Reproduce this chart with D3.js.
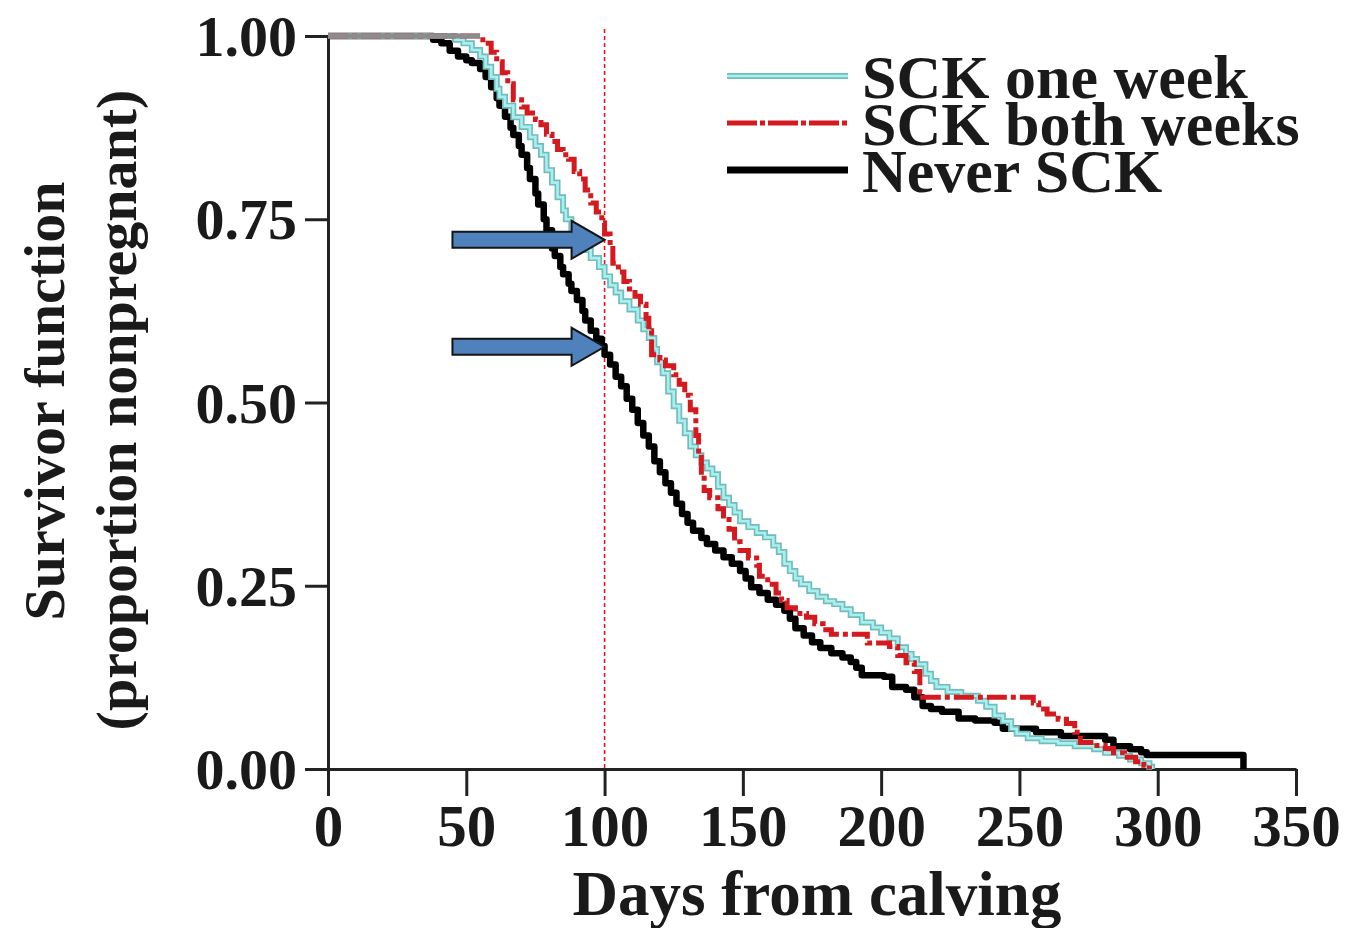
<!DOCTYPE html>
<html><head><meta charset="utf-8">
<script src="https://cdn.jsdelivr.net/npm/d3@7"></script>
<style>
html,body{margin:0;padding:0;background:#fff;}
svg{display:block;}
text{font-family:"Liberation Serif","Times New Roman",serif;font-weight:bold;fill:#1a1a1a;}
</style></head>
<body>
<svg id="chart" width="1345" height="928"></svg>
<script>
// ---- data ----
const seriesNames = ["SCK one week", "SCK both weeks", "Never SCK"];
const xTicks = [0, 50, 100, 150, 200, 250, 300, 350];
const yTicks = [0, 0.25, 0.5, 0.75, 1.0];

const neverDays = [0,38,41,44,47,50,52,55,57,59,61,62,64,66,67,69,70,72,73,75,76,78,79,81,82,84,85,87,88,90,92,93,95,97,99,100,102,104,106,108,110,112,114,116,118,120,122,124,126,128,130,132,135,137,140,143,146,149,151,153,156,159,162,165,167,169,172,175,178,182,186,189,191,193,201,204,209,212,215,218,222,228,234,241,244,256,265,281,284,290,294,296,331,331];
const neverSurv = [1,0.995,0.99,0.98,0.972,0.967,0.963,0.955,0.944,0.93,0.915,0.905,0.89,0.875,0.865,0.85,0.838,0.82,0.805,0.785,0.77,0.75,0.735,0.71,0.70,0.685,0.675,0.662,0.652,0.64,0.625,0.612,0.598,0.587,0.577,0.565,0.552,0.535,0.522,0.505,0.49,0.472,0.455,0.44,0.42,0.405,0.39,0.377,0.362,0.348,0.336,0.325,0.315,0.307,0.298,0.289,0.28,0.27,0.26,0.248,0.24,0.231,0.224,0.216,0.205,0.192,0.182,0.173,0.165,0.158,0.152,0.146,0.138,0.128,0.126,0.112,0.108,0.098,0.086,0.082,0.078,0.069,0.066,0.063,0.055,0.05,0.045,0.04,0.031,0.027,0.023,0.019,0.019,0];

const oneDays = [0,46,49,52,55,57,59,61,62,64,67,70,73,75,77,79,81,83,85,86,88,90,92,95,98,100,102,104,106,109,112,114,116,118,119,121,123,125,127,129,131,133,135,137,139,141,143,145,147,149,152,155,158,161,163,165,167,169,171,174,177,180,183,186,189,193,197,200,203,206,209,211,213,216,218,220,224,229,235,238,241,244,247,249,253,258,264,270,277,281,286,290,294,297,298];
const oneSurv = [1,0.995,0.99,0.981,0.972,0.958,0.944,0.928,0.917,0.905,0.889,0.876,0.862,0.85,0.838,0.817,0.80,0.78,0.762,0.75,0.735,0.72,0.708,0.697,0.685,0.672,0.66,0.65,0.638,0.627,0.612,0.60,0.588,0.573,0.555,0.54,0.515,0.495,0.475,0.458,0.44,0.428,0.418,0.41,0.402,0.385,0.37,0.36,0.35,0.338,0.33,0.322,0.316,0.305,0.296,0.28,0.27,0.26,0.252,0.243,0.235,0.229,0.225,0.218,0.21,0.20,0.193,0.186,0.178,0.166,0.157,0.15,0.143,0.13,0.12,0.112,0.105,0.10,0.093,0.085,0.073,0.065,0.055,0.048,0.042,0.038,0.035,0.031,0.027,0.022,0.018,0.013,0.008,0.003,0];

const bothDays = [0,55,57,59,61,63,65,67,70,72,75,77,79,81,83,85,87,89,91,93,95,97,99,100,102,103,105,107,109,111,113,115,116,117,120,122,125,127,129,131,133,134,135,136,138,141,143,145,147,149,152,155,156,159,162,164,166,169,173,176,179,182,195,203,206,209,212,214,215,255,257,260,264,267,270,272,278,281,284,288,292,295,297];
const bothSurv = [1,0.995,0.99,0.978,0.965,0.95,0.935,0.913,0.903,0.895,0.886,0.879,0.866,0.856,0.845,0.838,0.832,0.815,0.805,0.79,0.772,0.76,0.745,0.73,0.71,0.69,0.678,0.665,0.655,0.645,0.634,0.615,0.598,0.565,0.558,0.55,0.538,0.525,0.51,0.49,0.455,0.43,0.40,0.38,0.37,0.355,0.345,0.327,0.31,0.298,0.288,0.278,0.263,0.252,0.24,0.23,0.22,0.212,0.207,0.198,0.19,0.184,0.172,0.167,0.155,0.145,0.133,0.105,0.098,0.09,0.082,0.075,0.068,0.062,0.05,0.036,0.032,0.028,0.022,0.016,0.01,0.005,0];

// annotation values
const refDay = 100;
const arrowStartDay = 45;
const arrowTargets = [0.722, 0.576];

// ---- chart ----
const svg = d3.select("#chart");
const x = d3.scaleLinear().domain([0, 350]).range([328, 1296]);
const y = d3.scaleLinear().domain([0, 1]).range([769, 36]);

const zip = (a, b) => a.map((d, i) => [d, b[i]]);
const line = d3.line().x(d => x(d[0])).y(d => y(d[1])).curve(d3.curveStepAfter);

// axes
const yAxis = svg.append("g").attr("transform", `translate(${x(0)},0)`)
  .call(d3.axisLeft(y).tickValues(yTicks).tickFormat(d3.format(".2f")).tickSize(23).tickPadding(8).tickSizeOuter(0));
const xAxis = svg.append("g").attr("transform", `translate(0,${y(0)})`)
  .call(d3.axisBottom(x).tickValues(xTicks).tickFormat(d3.format("d")).tickSize(27).tickPadding(8).tickSizeOuter(0));
[yAxis, xAxis].forEach(g => {
  g.select(".domain").attr("stroke", "#222").attr("stroke-width", 3);
  g.selectAll(".tick line").attr("stroke", "#222").attr("stroke-width", 3);
  g.selectAll(".tick text").attr("fill", "#1a1a1a").style("font-family", '"Liberation Serif",serif').style("font-weight", "bold");
});
yAxis.selectAll(".tick text").style("font-size", "58px").attr("dy", "0.34em");
xAxis.selectAll(".tick text").style("font-size", "59px").attr("dy", "0.72em");

// reference line at day 100
svg.append("line").attr("x1", x(refDay)).attr("x2", x(refDay)).attr("y1", 29).attr("y2", y(0))
  .attr("stroke", "#e8141c").attr("stroke-width", 1.6).attr("stroke-dasharray", "4,3");

// series
const gLines = svg.append("g");
gLines.append("path").datum(zip(neverDays, neverSurv)).attr("d", line)
  .attr("fill", "none").attr("stroke", "#000").attr("stroke-width", 6.5).attr("stroke-linejoin", "round");
gLines.append("path").datum(zip(oneDays, oneSurv)).attr("d", line)
  .attr("fill", "none").attr("stroke", "#72bcbc").attr("stroke-width", 6);
gLines.append("path").datum(zip(oneDays, oneSurv)).attr("d", line)
  .attr("fill", "none").attr("stroke", "#a8f0f0").attr("stroke-width", 2.6);
gLines.append("path").datum(zip(bothDays, bothSurv)).attr("d", line)
  .attr("fill", "none").attr("stroke", "#d41a1f").attr("stroke-width", 5).attr("stroke-dasharray", "20,4,5,4");
// common plateau at S = 1 (all groups still nonpregnant) drawn grey as in the figure
gLines.append("path").datum([[0, 1], [bothDays[1], 1]]).attr("d", line)
  .attr("fill", "none").attr("stroke", "#8c8c8c").attr("stroke-width", 5);

// arrows
const arrowShape = (x0, x1, yc) => {
  const hs = 8, hh = 19, hl = 33;
  return `M${x0},${yc-hs}L${x1-hl},${yc-hs}L${x1-hl},${yc-hh}L${x1},${yc}L${x1-hl},${yc+hh}L${x1-hl},${yc+hs}L${x0},${yc+hs}Z`;
};
svg.append("g").selectAll("path").data(arrowTargets).join("path")
  .attr("d", v => arrowShape(x(arrowStartDay), x(refDay), y(v)))
  .attr("fill", "#4f81bd").attr("stroke", "#151515").attr("stroke-width", 2);

// axis titles
svg.append("text").attr("x", 817).attr("y", 915).attr("text-anchor", "middle")
  .style("font-size", "63px").text("Days from calving");
svg.append("text").attr("transform", "translate(64,401) rotate(-90)").attr("text-anchor", "middle")
  .style("font-size", "58px").text("Survivor function");
svg.append("text").attr("transform", "translate(136,410) rotate(-90)").attr("text-anchor", "middle")
  .style("font-size", "58px").text("(proportion nonpregnant)");

// legend
const legY = [76, 123, 170];
const lg = svg.append("g");
const lx0 = 727, lx1 = 848;
lg.append("line").attr("x1", lx0).attr("x2", lx1).attr("y1", legY[0]).attr("y2", legY[0]).attr("stroke", "#72bcbc").attr("stroke-width", 6);
lg.append("line").attr("x1", lx0).attr("x2", lx1).attr("y1", legY[0]).attr("y2", legY[0]).attr("stroke", "#a8f0f0").attr("stroke-width", 2.6);
lg.append("line").attr("x1", lx0).attr("x2", lx1).attr("y1", legY[1]).attr("y2", legY[1]).attr("stroke", "#d41a1f").attr("stroke-width", 5).attr("stroke-dasharray", "30,3,5,3");
lg.append("line").attr("x1", lx0).attr("x2", lx1).attr("y1", legY[2]).attr("y2", legY[2]).attr("stroke", "#000").attr("stroke-width", 7);
lg.selectAll("text").data(seriesNames).join("text")
  .attr("x", 862).attr("y", (d, i) => legY[i] + 22)
  .style("font-size", "62px").text(d => d);
</script>
</body></html>
